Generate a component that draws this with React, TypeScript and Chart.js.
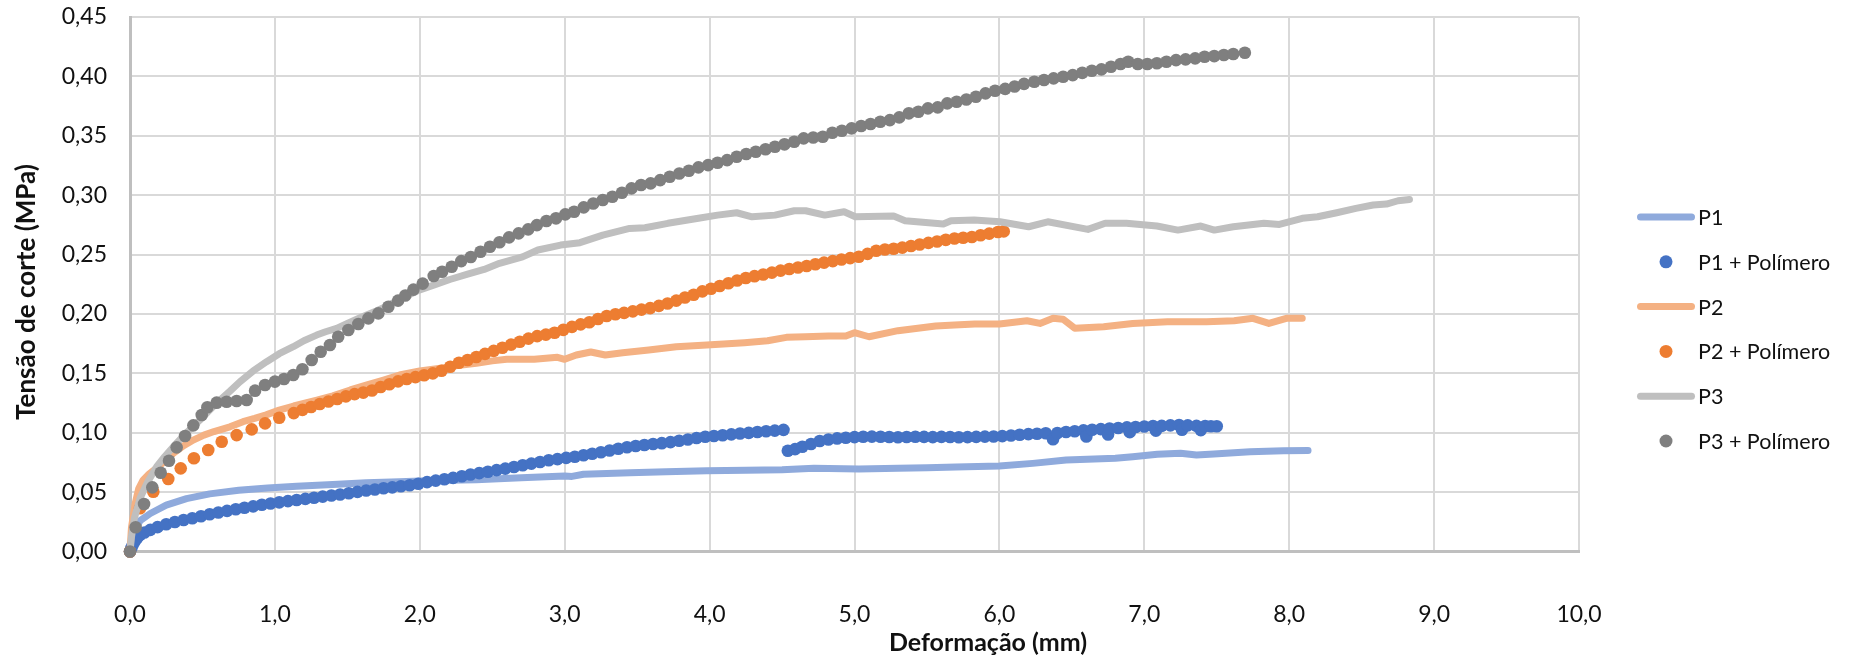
import React, { useEffect, useRef } from 'react';
import { Chart, registerables } from 'chart.js';

Chart.register(...registerables);

type Pt = [number, number];

// Axis tick labels (Portuguese decimal comma)
const xTickLabels = ['0,0', '1,0', '2,0', '3,0', '4,0', '5,0', '6,0', '7,0', '8,0', '9,0', '10,0'];
const yTickLabels = ['0,00', '0,05', '0,10', '0,15', '0,20', '0,25', '0,30', '0,35', '0,40', '0,45'];

const xTitle = 'Deformação (mm)';
const yTitle = 'Tensão de corte (MPa)';

const seriesNames = ['P1', 'P1 + Polímero', 'P2', 'P2 + Polímero', 'P3', 'P3 + Polímero'];

// Deformação (mm), Tensão de corte (MPa)
const p1: Pt[] = [
  [0, 0], [0.01, 0.008], [0.035, 0.018], [0.07, 0.026], [0.14, 0.032], [0.25, 0.039], [0.39, 0.0445],
  [0.55, 0.0485], [0.75, 0.0515], [0.95, 0.0535], [1.15, 0.055], [1.4, 0.0565], [1.63, 0.0578],
  [1.86, 0.0588], [2.1, 0.0598], [2.39, 0.0605], [2.7, 0.062], [3.0, 0.0635], [3.05, 0.0632],
  [3.13, 0.065], [3.45, 0.0662], [3.7, 0.0672], [3.98, 0.068], [4.25, 0.0684], [4.5, 0.0688],
  [4.72, 0.07], [5.03, 0.0694], [5.3, 0.07], [5.5, 0.0705], [5.7, 0.0712], [6.0, 0.072],
  [6.23, 0.0742], [6.46, 0.077], [6.8, 0.0785], [6.92, 0.0798], [7.09, 0.0818], [7.25, 0.0827],
  [7.36, 0.0812], [7.48, 0.082], [7.73, 0.084], [7.96, 0.0849], [8.13, 0.085],
];

const p1Polymer: Pt[] = [
  [0, 0], [0.01, 0.003], [0.02, 0.006], [0.035, 0.009], [0.05, 0.0115], [0.07, 0.014], [0.1, 0.016],
  [0.14, 0.0182], [0.19, 0.0205], [0.25, 0.023], [0.31, 0.0248], [0.37, 0.0265], [0.43, 0.028],
  [0.49, 0.0297], [0.55, 0.0313], [0.61, 0.0328], [0.67, 0.0342], [0.73, 0.0356], [0.79, 0.0368],
  [0.85, 0.038], [0.91, 0.0393], [0.97, 0.0404], [1.03, 0.0414], [1.09, 0.0424], [1.15, 0.0434],
  [1.21, 0.0443], [1.27, 0.0452], [1.33, 0.0462], [1.39, 0.0472], [1.45, 0.048], [1.51, 0.049],
  [1.57, 0.0502], [1.63, 0.0514], [1.69, 0.0522], [1.75, 0.0532], [1.81, 0.054], [1.87, 0.0549],
  [1.93, 0.0558], [1.99, 0.0571], [2.05, 0.0584], [2.11, 0.0597], [2.17, 0.0608], [2.23, 0.062],
  [2.29, 0.0633], [2.35, 0.0648], [2.41, 0.066], [2.47, 0.0672], [2.53, 0.0685], [2.59, 0.0698],
  [2.65, 0.0712], [2.71, 0.0726], [2.77, 0.074], [2.83, 0.0754], [2.89, 0.0768], [2.95, 0.0778],
  [3.01, 0.0788], [3.07, 0.0798], [3.13, 0.081], [3.19, 0.0823], [3.25, 0.0836], [3.31, 0.085],
  [3.37, 0.0865], [3.43, 0.0878], [3.49, 0.0888], [3.55, 0.0897], [3.61, 0.0905], [3.67, 0.0912],
  [3.73, 0.0921], [3.79, 0.0932], [3.85, 0.0943], [3.91, 0.0955], [3.97, 0.0966], [4.03, 0.0972],
  [4.09, 0.0979], [4.15, 0.0986], [4.21, 0.0993], [4.27, 0.0999], [4.33, 0.1006], [4.39, 0.1012],
  [4.45, 0.1018], [4.51, 0.1024],
  [4.54, 0.0848], [4.59, 0.0862], [4.64, 0.0882], [4.7, 0.0905], [4.76, 0.093], [4.82, 0.0943],
  [4.88, 0.0952], [4.94, 0.0958], [5.0, 0.0963], [5.06, 0.0966], [5.12, 0.0967], [5.18, 0.0966],
  [5.24, 0.0964], [5.3, 0.0962], [5.36, 0.0964], [5.42, 0.0966], [5.48, 0.0965], [5.54, 0.0963],
  [5.6, 0.0965], [5.66, 0.0964], [5.72, 0.0962], [5.78, 0.0963], [5.84, 0.0965], [5.9, 0.0967],
  [5.96, 0.0968], [6.02, 0.0971], [6.08, 0.0977], [6.14, 0.0983], [6.2, 0.0988], [6.26, 0.0991],
  [6.32, 0.0995], [6.37, 0.0945], [6.4, 0.0998], [6.46, 0.1006], [6.52, 0.1012], [6.58, 0.102],
  [6.6, 0.0968], [6.64, 0.1025], [6.7, 0.103], [6.75, 0.0985], [6.76, 0.1036], [6.82, 0.104],
  [6.88, 0.1045], [6.9, 0.1005], [6.94, 0.1048], [7.0, 0.1052], [7.06, 0.1056], [7.08, 0.1018],
  [7.12, 0.1058], [7.18, 0.1062], [7.24, 0.1065], [7.26, 0.1025], [7.3, 0.1062], [7.36, 0.1058],
  [7.39, 0.1022], [7.42, 0.1056], [7.46, 0.1054], [7.5, 0.1055],
];

const p2: Pt[] = [
  [0, 0], [0.01, 0.02], [0.035, 0.04], [0.06, 0.053], [0.09, 0.06], [0.13, 0.065], [0.18, 0.07],
  [0.24, 0.076], [0.3, 0.0827], [0.37, 0.089], [0.44, 0.094], [0.51, 0.098], [0.58, 0.101],
  [0.69, 0.105], [0.78, 0.1093], [0.86, 0.112], [0.94, 0.115], [1.03, 0.119], [1.13, 0.1225],
  [1.29, 0.1275], [1.4, 0.131], [1.52, 0.136], [1.63, 0.14], [1.75, 0.1444], [1.86, 0.1486],
  [2.0, 0.152], [2.13, 0.1542], [2.26, 0.1565], [2.39, 0.1584], [2.5, 0.1605], [2.6, 0.1618],
  [2.79, 0.1618], [2.95, 0.1635], [3.0, 0.1618], [3.08, 0.1654], [3.18, 0.168], [3.28, 0.1654],
  [3.4, 0.1673], [3.58, 0.1696], [3.77, 0.1724], [3.98, 0.1738], [4.24, 0.1758], [4.4, 0.1774],
  [4.53, 0.1803], [4.66, 0.1808], [4.82, 0.1814], [4.94, 0.1814], [5.0, 0.1842], [5.1, 0.1808],
  [5.3, 0.1859], [5.56, 0.1898], [5.69, 0.1907], [5.83, 0.1915], [6.0, 0.1915], [6.19, 0.1943],
  [6.28, 0.192], [6.37, 0.1963], [6.44, 0.1955], [6.52, 0.1879], [6.72, 0.1892], [6.92, 0.192],
  [7.16, 0.1934], [7.43, 0.1934], [7.62, 0.1943], [7.75, 0.1963], [7.86, 0.192], [7.98, 0.1963],
  [8.09, 0.1963],
];

const p2Polymer: Pt[] = [
  [0, 0], [0.069, 0.0364], [0.161, 0.0503], [0.264, 0.061], [0.35, 0.07], [0.441, 0.0785],
  [0.54, 0.0854], [0.633, 0.0924], [0.736, 0.098], [0.84, 0.1028], [0.932, 0.1079], [1.03, 0.1126],
  [1.13, 0.1165], [1.19, 0.1192], [1.25, 0.1217], [1.31, 0.1242], [1.37, 0.1263], [1.43, 0.1284],
  [1.49, 0.1306], [1.55, 0.1325], [1.61, 0.1338], [1.67, 0.1356], [1.73, 0.1385], [1.79, 0.1408],
  [1.85, 0.1432], [1.91, 0.1452], [1.97, 0.1468], [2.03, 0.1484], [2.09, 0.15], [2.15, 0.1522],
  [2.21, 0.1556], [2.27, 0.1589], [2.33, 0.1612], [2.39, 0.1638], [2.45, 0.1664], [2.51, 0.1689],
  [2.57, 0.1716], [2.63, 0.1742], [2.69, 0.1766], [2.75, 0.1792], [2.81, 0.1813], [2.87, 0.1826],
  [2.93, 0.1842], [2.99, 0.1866], [3.05, 0.1891], [3.11, 0.1912], [3.17, 0.193], [3.23, 0.1958],
  [3.29, 0.1983], [3.35, 0.1998], [3.41, 0.2009], [3.47, 0.2022], [3.53, 0.2036], [3.59, 0.2049],
  [3.65, 0.2068], [3.71, 0.2088], [3.77, 0.2112], [3.83, 0.2138], [3.89, 0.2162], [3.95, 0.219],
  [4.01, 0.2212], [4.07, 0.2235], [4.13, 0.2258], [4.19, 0.2281], [4.25, 0.2302], [4.31, 0.2318],
  [4.37, 0.2332], [4.43, 0.2348], [4.49, 0.2365], [4.55, 0.2378], [4.61, 0.2391], [4.67, 0.2404],
  [4.73, 0.2418], [4.79, 0.2432], [4.85, 0.2445], [4.91, 0.2458], [4.97, 0.247], [5.03, 0.2481],
  [5.09, 0.2506], [5.15, 0.2532], [5.21, 0.2542], [5.27, 0.2549], [5.33, 0.2558], [5.39, 0.2572],
  [5.45, 0.2585], [5.51, 0.2598], [5.57, 0.261], [5.63, 0.2624], [5.69, 0.2635], [5.75, 0.2642],
  [5.81, 0.2648], [5.87, 0.2662], [5.93, 0.2676], [5.99, 0.269], [6.03, 0.2695],
];

const p3: Pt[] = [
  [0, 0], [0.01, 0.012], [0.03, 0.028], [0.07, 0.045], [0.12, 0.058], [0.184, 0.0714], [0.24, 0.08],
  [0.299, 0.0882], [0.39, 0.1], [0.483, 0.1107], [0.55, 0.119], [0.621, 0.1275], [0.69, 0.135],
  [0.759, 0.1429], [0.85, 0.152], [0.943, 0.1598], [1.03, 0.1665], [1.127, 0.1724], [1.2, 0.1775],
  [1.288, 0.1822], [1.35, 0.185], [1.426, 0.1879], [1.5, 0.192], [1.6, 0.1975], [1.7, 0.2025],
  [1.78, 0.207], [1.863, 0.2125], [1.995, 0.22], [2.1, 0.2245], [2.207, 0.229], [2.33, 0.2335],
  [2.444, 0.2375], [2.55, 0.2426], [2.709, 0.248], [2.815, 0.2538], [2.972, 0.258], [3.105, 0.26],
  [3.263, 0.2664], [3.448, 0.272], [3.554, 0.2726], [3.712, 0.2763], [3.923, 0.2805], [4.055, 0.2832],
  [4.187, 0.2852], [4.293, 0.2818], [4.451, 0.2832], [4.584, 0.2869], [4.663, 0.2869], [4.795, 0.2832],
  [4.928, 0.286], [5.006, 0.2818], [5.27, 0.2824], [5.349, 0.2785], [5.613, 0.2757], [5.666, 0.2785],
  [5.825, 0.279], [6.004, 0.2776], [6.202, 0.2734], [6.334, 0.2776], [6.611, 0.2712], [6.73, 0.2763],
  [6.876, 0.2763], [7.087, 0.274], [7.232, 0.2706], [7.39, 0.274], [7.483, 0.2706], [7.614, 0.2734],
  [7.826, 0.2763], [7.932, 0.2754], [8.09, 0.2805], [8.196, 0.2818], [8.328, 0.2852], [8.46, 0.2889],
  [8.579, 0.2917], [8.671, 0.2925], [8.751, 0.2953], [8.83, 0.2964],
];

const p3Polymer: Pt[] = [
  [0, 0], [0.039, 0.0204], [0.097, 0.04], [0.154, 0.054], [0.212, 0.0663], [0.269, 0.0764],
  [0.322, 0.0877], [0.38, 0.0972], [0.437, 0.1062], [0.495, 0.1149], [0.534, 0.1214], [0.598, 0.1253],
  [0.667, 0.1261], [0.736, 0.1267], [0.805, 0.1275], [0.863, 0.1354], [0.932, 0.1402], [1.0, 0.143],
  [1.063, 0.1452], [1.127, 0.1486], [1.19, 0.1534], [1.254, 0.1612], [1.316, 0.1682], [1.38, 0.1738],
  [1.437, 0.1808], [1.507, 0.1865], [1.576, 0.1915], [1.645, 0.1963], [1.714, 0.2005], [1.783, 0.2061],
  [1.85, 0.2112], [1.9, 0.2155], [1.956, 0.2205], [2.02, 0.2255], [2.096, 0.2319], [2.154, 0.2355],
  [2.22, 0.2397], [2.286, 0.2445], [2.352, 0.248], [2.419, 0.2524], [2.484, 0.2566], [2.55, 0.2603],
  [2.616, 0.2645], [2.682, 0.2678], [2.748, 0.2712], [2.808, 0.2748], [2.874, 0.2782], [2.94, 0.2805],
  [3.004, 0.2838], [3.065, 0.286], [3.131, 0.2897], [3.197, 0.293], [3.263, 0.2959], [3.329, 0.2987],
  [3.395, 0.302], [3.461, 0.3057], [3.527, 0.3085], [3.593, 0.3099], [3.659, 0.3127], [3.725, 0.3155],
  [3.791, 0.3183], [3.857, 0.3206], [3.923, 0.3234], [3.99, 0.3253], [4.055, 0.3273], [4.121, 0.3295],
  [4.187, 0.3323], [4.253, 0.3346], [4.319, 0.3366], [4.386, 0.3386], [4.451, 0.3408], [4.517, 0.3428],
  [4.584, 0.345], [4.649, 0.3478], [4.715, 0.3485], [4.781, 0.3492], [4.847, 0.3525], [4.913, 0.3542],
  [4.98, 0.3562], [5.046, 0.3582], [5.111, 0.3599], [5.178, 0.3618], [5.244, 0.3632], [5.309, 0.3655],
  [5.375, 0.3689], [5.441, 0.3702], [5.507, 0.3731], [5.574, 0.3739], [5.64, 0.3773], [5.705, 0.3786],
  [5.772, 0.3806], [5.838, 0.3828], [5.904, 0.3857], [5.97, 0.3879], [6.04, 0.3895], [6.105, 0.3915],
  [6.17, 0.3937], [6.241, 0.3955], [6.308, 0.3969], [6.374, 0.3983], [6.44, 0.3997], [6.506, 0.4011],
  [6.572, 0.403], [6.638, 0.4047], [6.704, 0.4059], [6.77, 0.4081], [6.836, 0.4104], [6.889, 0.4123],
  [6.955, 0.4104], [7.021, 0.4104], [7.087, 0.411], [7.153, 0.4123], [7.219, 0.4137], [7.285, 0.4143],
  [7.351, 0.4152], [7.416, 0.4165], [7.483, 0.4171], [7.549, 0.418], [7.614, 0.4188], [7.694, 0.4199],
];

const seriesData: Pt[][] = [p1, p1Polymer, p2, p2Polymer, p3, p3Polymer];

// Visual style per series: solid lines for the plain samples, filled markers for the polymer ones
const seriesStyle = [
  { color: '#8FAADC', kind: 'line' },
  { color: '#4472C4', kind: 'dot' },
  { color: '#F4B183', kind: 'line' },
  { color: '#ED7D31', kind: 'dot' },
  { color: '#BFBFBF', kind: 'line' },
  { color: '#7F7F7F', kind: 'dot' },
];

const FONT = 'Lato, "Open Sans", sans-serif';
const TEXT_COLOR = '#111111';
const LINE_WIDTH = 7;
const DOT_RADIUS = 6.3;
const TICK_SIZE = 23;

// Side legend and axis titles, laid out like a spreadsheet chart
const decorations = {
  id: 'sideLegendAndTitles',
  afterDraw(chart: Chart) {
    const ctx = chart.ctx;
    ctx.save();
    ctx.fillStyle = TEXT_COLOR;
    ctx.textBaseline = 'middle';

    ctx.textAlign = 'center';
    ctx.font = `bold 25px ${FONT}`;
    ctx.fillText(xTitle, 988, 643);

    ctx.save();
    ctx.translate(27, 292);
    ctx.rotate(-Math.PI / 2);
    ctx.font = `bold 26px ${FONT}`;
    ctx.fillText(yTitle, 0, 0);
    ctx.restore();

    const legendX = 1637;
    const legendTop = 217;
    const rowGap = 44.8;
    const swatchW = 58;
    ctx.textAlign = 'left';
    ctx.font = `21.5px ${FONT}`;
    seriesNames.forEach((name, i) => {
      const y = legendTop + i * rowGap;
      const st = seriesStyle[i];
      if (st.kind === 'line') {
        ctx.strokeStyle = st.color;
        ctx.lineWidth = LINE_WIDTH;
        ctx.lineCap = 'round';
        ctx.beginPath();
        ctx.moveTo(legendX + LINE_WIDTH / 2, y);
        ctx.lineTo(legendX + swatchW - LINE_WIDTH / 2, y);
        ctx.stroke();
      } else {
        ctx.fillStyle = st.color;
        ctx.beginPath();
        ctx.arc(legendX + swatchW / 2, y, 6.5, 0, Math.PI * 2);
        ctx.fill();
      }
      ctx.fillStyle = TEXT_COLOR;
      ctx.fillText(name, legendX + swatchW + 3, y + 1);
    });
    ctx.restore();
  },
};

export default function App() {
  const canvasRef = useRef<HTMLCanvasElement>(null);

  useEffect(() => {
    document.body.style.margin = '0';
    let chart: Chart | null = null;
    let cancelled = false;

    const build = () => {
      if (cancelled || !canvasRef.current) return;
      const datasets = seriesData.map((data, i) => {
        const st = seriesStyle[i];
        const isLine = st.kind === 'line';
        return {
          label: seriesNames[i],
          data: data.map(([x, y]) => ({ x, y })),
          showLine: isLine,
          borderColor: st.color,
          backgroundColor: st.color,
          borderWidth: isLine ? LINE_WIDTH : 0,
          borderCapStyle: 'round' as const,
          borderJoinStyle: 'round' as const,
          tension: 0,
          pointRadius: isLine ? 0 : DOT_RADIUS,
          pointHoverRadius: isLine ? 0 : DOT_RADIUS,
          pointBorderWidth: 0,
          pointBackgroundColor: st.color,
          pointBorderColor: st.color,
          clip: false as const,
          order: seriesNames.length - i,
        };
      });

      chart = new Chart(canvasRef.current, {
        type: 'scatter',
        data: { datasets },
        options: {
          responsive: false,
          animation: false,
          events: [],
          layout: { padding: { left: 0, top: 17, right: 270, bottom: 0 } },
          plugins: {
            legend: { display: false },
            tooltip: { enabled: false },
            title: { display: false },
          },
          scales: {
            x: {
              type: 'linear',
              min: 0,
              max: 10,
              afterFit: (scale: any) => {
                scale.height = 108.5;
              },
              ticks: {
                stepSize: 1,
                padding: 49,
                color: TEXT_COLOR,
                font: { family: FONT, size: TICK_SIZE },
                maxRotation: 0,
                callback: (_v: any, idx: number) => xTickLabels[idx],
              },
              grid: { color: '#D9D9D9', lineWidth: 2, drawTicks: false },
              border: { color: '#BFBFBF', width: 3 },
            },
            y: {
              type: 'linear',
              min: 0,
              max: 0.45,
              afterFit: (scale: any) => {
                scale.width = 130;
                scale.paddingTop = 0;
                scale.paddingBottom = 0;
              },
              ticks: {
                stepSize: 0.05,
                padding: 23,
                color: TEXT_COLOR,
                font: { family: FONT, size: TICK_SIZE },
                callback: (_v: any, idx: number) => yTickLabels[idx],
              },
              grid: { color: '#D9D9D9', lineWidth: 2, drawTicks: false },
              border: { color: '#BFBFBF', width: 3 },
            },
          },
        },
        plugins: [decorations],
      });
    };

    const fonts = (document as any).fonts;
    const ready = fonts
      ? Promise.all([fonts.load(`${TICK_SIZE}px Lato`), fonts.load(`bold 25px Lato`)]).catch(() => null)
      : Promise.resolve(null);
    ready.then(build);

    return () => {
      cancelled = true;
      if (chart) chart.destroy();
    };
  }, []);

  return (
    <div style={{ position: 'absolute', left: 0, top: 0, width: 1849, height: 660, background: '#fff' }}>
      <canvas ref={canvasRef} width={1849} height={660} style={{ display: 'block', width: 1849, height: 660 }} />
    </div>
  );
}
